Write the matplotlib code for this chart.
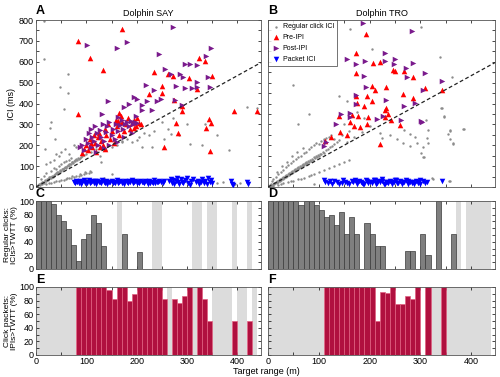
import numpy as np
import matplotlib
matplotlib.use("Agg")
import matplotlib.pyplot as plt
from matplotlib.ticker import MultipleLocator

plt.rcParams['font.family'] = ['Liberation Sans', 'DejaVu Sans']

# ---------------- Panel A (Dolphin SAY) ----------------
say_reg_x = [2,4,5,7,8,10,11,12,14,15,17,18,20,21,23,24,26,27,29,30,32,33,35,36,38,39,41,42,44,45,47,48,50,51,53,54,56,57,59,60,62,63,65,66,68,69,71,72,74,75,77,78,80,82,84,86,88,90,92,95,
             10,15,20,25,30,35,40,45,50,55,60,65,70,20,28,35,45,50,58,66,40,75,80,
             20,25,30,35,40,45,50,55,60,65,70,75,80,85,90,95,100,105,110,62,72,88,98,108,
             100,110,120,128,140,150,160,170,180,190,200,205,215,225,235,250,262,268,255,272,230,210,290,300,285,305,330,335,360,383,420,440,280,300,320,360,372,395,406,150,135,170,
             15,16,28,38,17,55,48,63,63,30,100,130]
say_reg_y = [5,8,12,10,15,18,14,22,25,20,28,32,30,36,38,33,42,46,44,50,52,48,58,55,62,66,64,70,72,68,78,80,76,85,88,84,92,95,98,90,102,106,100,110,112,108,118,122,115,126,130,124,134,128,138,132,140,145,150,155,
             40,55,65,48,75,90,85,100,110,120,125,130,140,110,120,130,150,170,180,160,160,200,190,
             15,18,20,25,28,30,33,35,38,42,45,48,52,55,58,62,65,68,72,45,55,62,70,78,
             160,170,180,150,175,190,200,215,230,215,225,240,260,250,270,310,280,255,228,330,190,190,360,300,248,205,200,300,250,175,385,380,32,22,28,20,22,15,18,60,45,220,
             795,615,285,232,180,375,478,450,542,310,40,120]

say_pre_x = [84,170,108,134,84,234,272,323,336,350,304,251,250,320,275,290,290,279,282,254,344,348,337,345,394,440,224,208,262,
             92,95,100,104,108,112,115,118,120,124,126,130,134,138,140,144,148,150,154,158,160,164,168,170,174,178,182,186,190,194,198,138,128,110,163,165,200,204,195]
say_pre_y = [700,758,618,561,349,552,532,617,604,532,520,450,485,469,418,389,362,306,261,191,328,306,285,174,365,365,445,304,540,
             165,180,200,175,230,190,250,210,170,240,260,220,200,280,250,300,230,270,210,320,290,250,340,310,270,300,330,280,305,320,290,180,190,210,314,354,330,306,285]

say_post_x = [101,160,181,273,244,256,219,235,195,200,143,174,131,162,221,240,230,211,199,249,269,287,292,297,306,320,338,348,342,320,309,297,320,345,278,277,291,185,210,
              88,92,96,100,104,106,110,112,116,118,122,124,128,130,134,136,140,142,146,150,152,156,158,162,166,170,172,176,180,184,188,192,196,200,110,120,135,145,160,175,190]
say_post_y = [680,668,693,768,638,564,491,465,430,420,410,381,352,335,413,414,370,370,340,422,542,542,528,588,588,583,628,668,529,502,472,473,481,478,485,418,394,400,395,
              190,200,175,230,210,260,280,240,220,290,260,200,275,240,300,220,265,290,310,250,280,230,300,270,295,320,280,300,310,290,315,300,310,305,190,170,185,200,215,240,260]

say_pkt_x = [76,78,80,82,85,87,90,92,95,97,100,102,105,107,110,112,115,117,120,122,125,127,130,132,135,137,140,142,145,147,150,152,155,157,160,162,165,167,170,172,175,177,180,182,185,187,190,192,195,197,200,202,205,207,210,212,215,217,220,222,225,227,230,232,235,237,240,242,245,248,252,255,
             265,268,270,272,275,278,280,283,285,288,290,293,296,299,302,305,308,311,
             318,321,324,327,330,333,336,339,342,345,348,350,388,390,391,420,421]
say_pkt_y = [25,18,30,22,20,28,15,24,32,19,26,21,35,17,23,29,20,27,16,31,22,25,18,34,24,20,28,15,26,22,30,19,25,21,33,17,24,28,20,26,15,30,22,19,27,24,32,18,23,29,21,26,17,31,22,25,19,28,24,16,30,21,26,20,33,18,25,22,29,24,20,27,
             28,40,20,35,15,30,42,22,12,38,25,18,32,44,20,10,27,36,
             22,30,15,26,38,20,28,12,45,24,33,18,30,15,8,25,12]

# ---------------- Panel B (Dolphin TRO) ----------------
tro_reg_x = [2,3,5,6,8,9,11,12,14,15,17,18,20,21,23,24,26,27,29,30,32,33,35,36,38,39,41,42,44,45,47,48,50,51,53,54,56,57,59,60,62,63,65,66,68,69,71,72,74,75,77,78,80,82,84,86,88,90,92,94,96,98,100,102,105,108,110,114,118,122,126,130,135,140,
             10,15,20,25,30,35,40,45,50,55,60,65,70,75,80,85,90,95,100,105,110,115,8,18,28,38,48,58,68,120,125,
             10,20,30,40,50,60,70,80,90,100,110,120,130,140,150,160,25,45,65,85,
             49,162,205,301,338,363,341,347,359,384,364,268,280,294,301,308,324,357,90,139,155,175,190,200,220,225,240,255,265,280,290,305,343,347,311,315,355,359,386,313,315,364,359,305,323,359,160,170,185,150,60,80,130,145,155]
tro_reg_y = [3,8,5,12,9,16,13,20,17,24,21,28,25,33,30,38,34,42,39,47,44,52,48,56,53,62,58,66,62,70,67,76,72,80,76,85,81,90,86,95,91,100,96,105,101,110,106,115,111,120,116,125,121,130,126,136,131,142,138,148,144,155,150,160,156,168,163,175,180,190,198,205,215,225,
             40,50,60,70,80,95,105,115,125,135,145,150,165,170,180,190,200,210,205,220,230,235,30,70,100,120,150,170,185,240,250,
             4,10,18,25,30,38,45,55,60,70,80,90,100,110,120,130,12,28,40,58,
             491,759,660,768,622,526,378,338,274,277,207,274,255,210,163,145,38,27,14,438,410,360,330,290,260,235,250,230,210,195,240,190,378,335,321,273,254,268,278,235,211,211,230,144,43,29,270,240,265,300,300,350,230,250,215]

tro_pre_x = [193,174,174,206,220,246,250,267,285,232,205,210,194,174,175,190,204,231,233,236,231,266,285,310,342,196,178,161,139,141,155,169,182,194,124,113,220,259,242,165]
tro_pre_y = [733,641,548,593,599,561,555,558,526,478,485,465,434,434,402,389,414,370,380,348,335,446,424,475,465,335,338,309,338,265,250,290,287,303,238,218,206,298,322,346]

tro_post_x = [187,284,155,174,191,230,231,251,248,285,272,274,310,342,306,189,193,174,232,268,289,174,161,162,144,133,115,110,301,304,214,226,262]
tro_post_y = [787,746,615,588,604,641,603,612,590,596,571,529,548,508,465,532,481,440,418,386,402,397,354,335,349,303,214,198,317,312,327,338,322]

tro_pkt_x = [110,113,118,122,126,130,135,140,145,148,152,156,160,165,168,172,176,180,184,188,192,196,200,204,208,212,216,220,224,228,232,236,240,244,248,252,256,260,264,268,272,276,280,284,288,292,296,300,305,310,314,342,
             175,185,195,205,215,225,235,245,255,265,275,285,295,300,190,210,230,250]
tro_pkt_y = [35,22,18,28,15,30,24,12,20,32,26,18,14,28,22,35,16,30,24,12,34,20,26,18,32,14,28,22,36,16,26,20,30,12,24,34,18,28,14,22,32,16,26,20,12,30,24,14,28,18,22,30,
             25,20,30,24,18,28,22,26,20,25,30,22,18,34,15,35,12,32]

# ---------------- Percentage bars (10 m bins, 0-440 m); nan = no data ----------------
nan = np.nan
bin_start = list(range(0, 440, 10))
say_regular_pct = [100,100,100,95,80,71,59,36,12,44,51,80,67,34,0,0,nan,51,0,0,25,0,0,nan,nan,0,0,0,0,0,0,nan,nan,0,nan,nan,0,0,0,nan,0,0,nan,0]
tro_regular_pct = [100,100,100,100,100,100,94,100,100,94,87,76,79,65,84,51,76,51,0,67,51,34,34,0,0,0,0,26,26,0,51,21,0,100,0,0,51,nan,0,nan,nan,nan,nan,nan]
say_packet_pct = [nan,nan,nan,nan,nan,nan,nan,nan,100,100,100,100,100,100,96,82,100,100,79,90,100,100,100,100,100,83,nan,83,76,87,100,nan,100,83,50,nan,nan,nan,nan,50,nan,nan,50,nan]
tro_packet_pct = [nan,nan,nan,nan,nan,nan,nan,nan,nan,nan,nan,100,100,100,100,100,100,100,100,100,100,50,93,91,100,75,75,87,83,100,0,100,nan,nan,100,nan,nan,nan,nan,nan,nan,nan,nan,nan]

# ---------------- Figure ----------------
W, H = 500, 377
fig = plt.figure(figsize=(W/100, H/100), dpi=100)

def ax_px(left, top, right, bottom):
    return fig.add_axes([left/W, 1-bottom/H, (right-left)/W, (bottom-top)/H])

XMAX = 447
axA = ax_px(36, 20, 261, 187)
axB = ax_px(268, 20, 495, 187)
axC = ax_px(36, 201, 261, 269)
axD = ax_px(268, 201, 495, 269)
axE = ax_px(36, 287, 261, 355)
axF = ax_px(268, 287, 495, 355)

FS = 6.5
GRAY = '#8c8c8c'
RED = '#ff0000'
PURPLE = '#7a1a8c'
BLUE = '#0000ff'
MAROON = '#b0103f'
BG = '#dcdcdc'

def style(ax, ymax, ymajor, yminor, ylabels, xlabels):
    ax.set_xlim(0, XMAX)
    ax.set_ylim(0, ymax)
    ax.xaxis.set_major_locator(MultipleLocator(100))
    ax.xaxis.set_minor_locator(MultipleLocator(50))
    ax.yaxis.set_major_locator(MultipleLocator(ymajor))
    ax.yaxis.set_minor_locator(MultipleLocator(yminor))
    ax.tick_params(which='both', direction='in', top=True, right=True, labelsize=FS, pad=1.5, width=0.5)
    ax.tick_params(which='major', length=2.5)
    ax.tick_params(which='minor', length=2.5)
    if not ylabels:
        ax.tick_params(labelleft=False)
    if not xlabels:
        ax.tick_params(labelbottom=False)
    for s in ax.spines.values():
        s.set_linewidth(0.6)
        s.set_color('#555555')

for ax, rx, ry, px_, py_, qx, qy, kx, ky, title in [
        (axA, say_reg_x, say_reg_y, say_pre_x, say_pre_y, say_post_x, say_post_y, say_pkt_x, say_pkt_y, 'Dolphin SAY'),
        (axB, tro_reg_x, tro_reg_y, tro_pre_x, tro_pre_y, tro_post_x, tro_post_y, tro_pkt_x, tro_pkt_y, 'Dolphin TRO')]:
    ax.scatter(rx, ry, s=3, c=GRAY, marker='o', linewidths=0, label='Regular click ICI', zorder=2)
    ax.scatter(px_, py_, s=16, c=RED, marker='^', linewidths=0, label='Pre-IPI', zorder=3)
    ax.scatter(qx, qy, s=16, c=PURPLE, marker='>', linewidths=0, label='Post-IPI', zorder=4)
    ax.scatter(kx, ky, s=16, c=BLUE, marker='v', linewidths=0, label='Packet ICI', zorder=5)
    xx = np.array([0, XMAX])
    ax.plot(xx, xx * 2 / 1.5, ls=(0, (3, 2)), color='#222222', lw=0.9, zorder=6)
    ax.set_title(title, fontsize=FS, pad=3)

style(axA, 800, 100, 50, True, False)
style(axB, 800, 100, 50, False, False)
axA.set_ylabel('ICI (ms)', fontsize=FS, labelpad=2)
leg = axB.legend(loc='upper left', fontsize=5, frameon=True, fancybox=False, borderpad=0.5,
                 handletextpad=0.4, labelspacing=0.55, borderaxespad=0.0, handlelength=1.2)
leg.get_frame().set_edgecolor('#333333')
leg.get_frame().set_linewidth(0.6)

def bars(ax, vals, color, edge):
    for x0, v in zip(bin_start, vals):
        if np.isnan(v):
            ax.axvspan(x0, x0 + 10, color=BG, lw=0, zorder=0)
    xs = [x0 for x0, v in zip(bin_start, vals) if not np.isnan(v) and v > 0]
    vs = [v for v in vals if not np.isnan(v) and v > 0]
    ax.bar(xs, vs, width=10, align='edge', color=color, edgecolor=edge, linewidth=0.5, zorder=2)

bars(axC, say_regular_pct, '#7f7f7f', '#3a3a3a')
bars(axD, tro_regular_pct, '#7f7f7f', '#3a3a3a')
bars(axE, say_packet_pct, MAROON, '#e06080')
bars(axF, tro_packet_pct, MAROON, '#e06080')
style(axC, 100, 20, 10, True, False)
style(axD, 100, 20, 10, False, False)
style(axE, 100, 20, 10, True, True)
style(axF, 100, 20, 10, False, True)
axC.set_ylabel('Regular clicks:\nICIs>TWTT (%)', fontsize=6, labelpad=1, linespacing=1.0)
axE.set_ylabel('Click packets:\nIPIs>TWTT (%)', fontsize=6, labelpad=1, linespacing=1.0)

for ax, letter in [(axA, 'A'), (axB, 'B'), (axC, 'C'), (axD, 'D'), (axE, 'E'), (axF, 'F')]:
    ax.text(0.0, 1.02, letter, transform=ax.transAxes, fontsize=9, fontweight='bold', ha='left', va='bottom')

fig.text(266/W, 1 - 372/H, 'Target range (m)', fontsize=FS, ha='center', va='center')

fig.savefig('out.png', dpi=100)
